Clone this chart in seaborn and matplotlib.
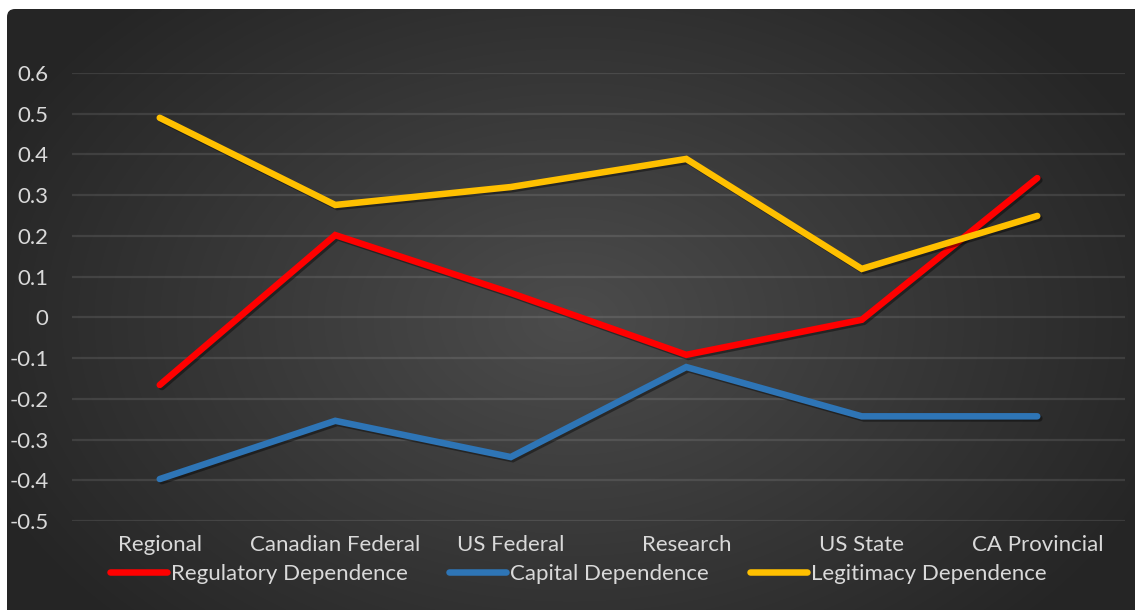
import numpy as np
import pandas as pd
import matplotlib
matplotlib.use("Agg")
import matplotlib.pyplot as plt
import matplotlib.patheffects as pe
from matplotlib.patches import FancyBboxPatch
from matplotlib.lines import Line2D
import seaborn as sns

categories = ["Regional", "Canadian Federal", "US Federal", "Research", "US State", "CA Provincial"]
regulatory = [-0.166, 0.202, 0.060, -0.092, -0.006, 0.342]
capital = [-0.397, -0.254, -0.343, -0.122, -0.243, -0.243]
legitimacy = [0.490, 0.276, 0.320, 0.389, 0.119, 0.249]
series_names = ["Regulatory Dependence", "Capital Dependence", "Legitimacy Dependence"]
colors = ["#FF0000", "#2E75B6", "#FFC000"]
yticks = [0.6, 0.5, 0.4, 0.3, 0.2, 0.1, 0, -0.1, -0.2, -0.3, -0.4, -0.5]

df = pd.concat([
    pd.DataFrame({"cat": categories, "x": range(len(categories)), "value": vals, "series": name})
    for name, vals in zip(series_names, [regulatory, capital, legitimacy])
])

sns.set_style("white")
plt.rcParams["font.family"] = ["Lato", "DejaVu Sans"]

W, H = 1135, 610
fig = plt.figure(figsize=(W / 100, H / 100), dpi=100, facecolor="white")

# background panel with radial gradient
bg = fig.add_axes([0, 0, 1, 1])
bg.set_xlim(0, W)
bg.set_ylim(0, H)
bg.axis("off")
yy, xx = np.mgrid[0:H, 0:W]
cx, cy = 570, 290
r = np.sqrt(((xx - cx) / 640.0) ** 2 + ((yy - cy) / 440.0) ** 2)
r = np.clip(r, 0, 1)
light = np.array([0x4c, 0x4c, 0x4c]) / 255.0
dark = np.array([0x25, 0x25, 0x25]) / 255.0
img = light[None, None, :] * (1 - r[..., None]) + dark[None, None, :] * r[..., None]
im = bg.imshow(img, extent=[0, W, 0, H], origin="lower", interpolation="bilinear", zorder=0)
clip = FancyBboxPatch((7, -20), W + 20, H - 9 + 20, boxstyle="round,pad=0,rounding_size=8",
                      transform=bg.transData, facecolor="none", edgecolor="none")
bg.add_patch(clip)
im.set_clip_path(clip)

ax = fig.add_axes([72 / W, (H - 521) / H, (1125 - 72) / W, (521 - 73) / H])
ax.patch.set_alpha(0)

sns.lineplot(data=df, x="x", y="value", hue="series", palette=colors, ax=ax,
             linewidth=4.7, legend=False, sort=False)
for line in ax.get_lines():
    line.set_solid_capstyle("round")
    line.set_solid_joinstyle("miter")
    line.set_path_effects([pe.SimpleLineShadow(offset=(1.5, -1.5), alpha=0.4, shadow_color="black"),
                           pe.Normal()])

ax.set_xlim(-0.5, len(categories) - 0.5)
ax.set_ylim(-0.5, 0.6)
ax.set_yticks(yticks)
ax.set_yticklabels([f"{t:g}" for t in yticks])
ax.set_xticks(range(len(categories)))
ax.set_xticklabels(categories)
ax.yaxis.grid(True, color="white", alpha=0.1, linewidth=1.6)
ax.set_axisbelow(True)
for s in ax.spines.values():
    s.set_visible(False)
ax.tick_params(axis="both", length=0, labelsize=16, colors="#D9D9D9")
ax.tick_params(axis="y", pad=17)
ax.tick_params(axis="x", pad=10)
ax.set_xlabel("")
ax.set_ylabel("")

handles = [Line2D([0], [0], color=c, linewidth=4.7, solid_capstyle="round") for c in colors]
leg = fig.legend(handles, series_names, loc="center", bbox_to_anchor=(578 / W, (H - 574) / H),
                 ncol=3, frameon=False, handlelength=2.6, handletextpad=0.15, columnspacing=1.85,
                 fontsize=16, labelcolor="#D9D9D9")

fig.savefig("out.png", dpi=100, facecolor="white")
